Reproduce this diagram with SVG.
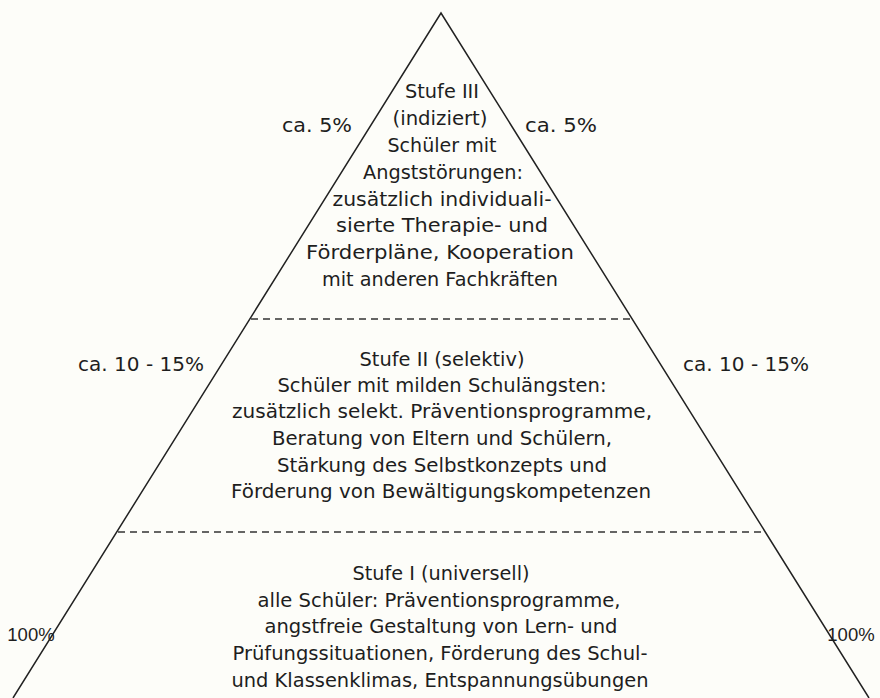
<svg xmlns="http://www.w3.org/2000/svg" width="880" height="698" viewBox="0 0 880 698">
<style>
.t{font-family:"DejaVu Sans","Liberation Sans",sans-serif;font-size:19.5px;fill:#1e1e1e;text-anchor:middle}
.p{font-family:"Liberation Sans","DejaVu Sans",sans-serif;font-size:18.5px;fill:#1e1e1e;text-anchor:middle}
.edge{fill:none;stroke:#222;stroke-width:1.5}
.sep{fill:none;stroke:#333;stroke-width:1.3;stroke-dasharray:7 5}
</style>
<rect width="880" height="698" fill="#fdfdf9"/>
<g id="connectors">
<polyline class="edge" points="13,698 441,13 869,698"/>
<line class="sep" x1="251" y1="319" x2="631" y2="319"/>
<line class="sep" x1="118" y1="532" x2="764" y2="532"/>
</g>
<g id="tier3">
<text class="t" x="442" y="98" textLength="74" lengthAdjust="spacingAndGlyphs">Stufe III</text>
<text class="t" x="440" y="125" textLength="95" lengthAdjust="spacingAndGlyphs">(indiziert)</text>
<text class="t" x="442" y="152" textLength="109" lengthAdjust="spacingAndGlyphs">Schüler mit</text>
<text class="t" x="443" y="179" textLength="160" lengthAdjust="spacingAndGlyphs">Angststörungen:</text>
<text class="t" x="442" y="206" textLength="219" lengthAdjust="spacingAndGlyphs">zusätzlich individuali-</text>
<text class="t" x="442" y="232" textLength="212" lengthAdjust="spacingAndGlyphs">sierte Therapie- und</text>
<text class="t" x="440" y="259" textLength="268" lengthAdjust="spacingAndGlyphs">Förderpläne, Kooperation</text>
<text class="t" x="440" y="286" textLength="236" lengthAdjust="spacingAndGlyphs">mit anderen Fachkräften</text>
</g>
<g id="tier2">
<text class="t" x="442" y="366" textLength="165" lengthAdjust="spacingAndGlyphs">Stufe II (selektiv)</text>
<text class="t" x="442" y="392" textLength="329" lengthAdjust="spacingAndGlyphs">Schüler mit milden Schulängsten:</text>
<text class="t" x="442" y="418" textLength="420" lengthAdjust="spacingAndGlyphs">zusätzlich selekt. Präventionsprogramme,</text>
<text class="t" x="442" y="445" textLength="340" lengthAdjust="spacingAndGlyphs">Beratung von Eltern und Schülern,</text>
<text class="t" x="442" y="472" textLength="330" lengthAdjust="spacingAndGlyphs">Stärkung des Selbstkonzepts und</text>
<text class="t" x="441" y="498" textLength="420" lengthAdjust="spacingAndGlyphs">Förderung von Bewältigungskompetenzen</text>
</g>
<g id="tier1">
<text class="t" x="441" y="580" textLength="177" lengthAdjust="spacingAndGlyphs">Stufe I (universell)</text>
<text class="t" x="439" y="607" textLength="363" lengthAdjust="spacingAndGlyphs">alle Schüler: Präventionsprogramme,</text>
<text class="t" x="441" y="633" textLength="353" lengthAdjust="spacingAndGlyphs">angstfreie Gestaltung von Lern- und</text>
<text class="t" x="440" y="660" textLength="415" lengthAdjust="spacingAndGlyphs">Prüfungssituationen, Förderung des Schul-</text>
<text class="t" x="440" y="687" textLength="417" lengthAdjust="spacingAndGlyphs">und Klassenklimas, Entspannungsübungen</text>
</g>
<g id="labels">
<text class="t" x="317" y="132" textLength="70" lengthAdjust="spacingAndGlyphs">ca. 5%</text>
<text class="t" x="561" y="132" textLength="72" lengthAdjust="spacingAndGlyphs">ca. 5%</text>
<text class="t" x="141" y="371" textLength="126" lengthAdjust="spacingAndGlyphs">ca. 10 - 15%</text>
<text class="t" x="746" y="371" textLength="126" lengthAdjust="spacingAndGlyphs">ca. 10 - 15%</text>
<text class="p" x="31" y="641">100%</text>
<text class="p" x="851" y="641">100%</text>
</g>
</svg>
